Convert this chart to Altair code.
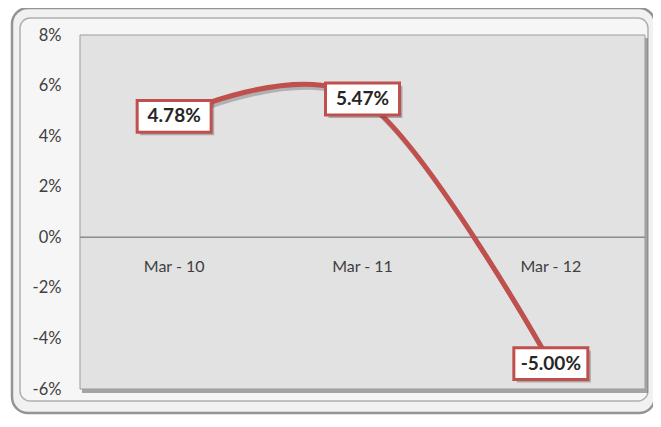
import altair as alt
import pandas as pd

categories = ["Mar - 10", "Mar - 11", "Mar - 12"]
values = [4.78, 5.47, -5.00]
labels = ["4.78%", "5.47%", "-5.00%"]
y_ticks = [-6, -4, -2, 0, 2, 4, 6, 8]

df = pd.DataFrame({"cat": categories, "v": values, "lab": labels})
one = pd.DataFrame({"a": [0]})

W, H = 565, 354
FONT = "Lato"
RED = "#c0504d"

x_enc = alt.X("cat:N", sort=categories, axis=None,
              scale=alt.Scale(type="point", padding=0.5))
y_scale = alt.Scale(domain=[-6, 8], nice=False, zero=False)
y_axis = alt.Axis(values=y_ticks, labelExpr="datum.value + '%'", title=None,
                  grid=False, ticks=False, domain=False, labelPadding=19, zindex=1,
                  labelFont=FONT, labelFontSize=16.5, labelColor="#404040")
y_enc = alt.Y("v:Q", scale=y_scale, axis=y_axis)

frame_outer = alt.Chart(one).mark_rect(
    cornerRadius=16, fill="#f1f1f1", stroke="#949494", strokeWidth=2.5
).encode(x=alt.value(-68), x2=alt.value(575), y=alt.value(-27), y2=alt.value(378))

frame_inner = alt.Chart(one).mark_rect(
    cornerRadius=10, fill="#f6f6f6", stroke="#b0b0b0", strokeWidth=1.5
).encode(x=alt.value(-60), x2=alt.value(568), y=alt.value(-17), y2=alt.value(366))

plot_shadow = alt.Chart(one).mark_rect(fill="#6e6e6e", opacity=0.6).encode(
    x=alt.value(2), x2=alt.value(W + 3), y=alt.value(3), y2=alt.value(H + 4))

plot_fill = alt.Chart(one).mark_rect(fill="#e2e2e2", stroke="#9c9c9c", strokeWidth=1).encode(
    x=alt.value(0), x2=alt.value("width"), y=alt.value(0), y2=alt.value("height"))

zero_rule = alt.Chart(df).mark_rule(color="#8c8c8c", strokeWidth=1).encode(
    y=alt.YDatum(0, scale=y_scale, axis=y_axis),
    x=alt.value(0), x2=alt.value("width"))

cat_text = alt.Chart(df).mark_text(
    font=FONT, fontSize=16, color="#404040", dy=30
).encode(x=x_enc, y=alt.YDatum(0, scale=y_scale, axis=y_axis), text="cat:N")

line_shadow = alt.Chart(df).mark_line(
    interpolate="cardinal", color="#404040", opacity=0.3, strokeWidth=5,
    xOffset=2, yOffset=3
).encode(x=x_enc, y=y_enc)

line = alt.Chart(df).mark_line(
    interpolate="cardinal", color=RED, strokeWidth=5
).encode(x=x_enc, y=y_enc)

BOX = "M-1,-0.43L1,-0.43L1,0.43L-1,0.43Z"
box_shadow = alt.Chart(df).mark_point(
    shape=BOX, size=5476, filled=True, color="#404040", opacity=0.35,
    xOffset=3, yOffset=3
).encode(x=x_enc, y=y_enc)

box = alt.Chart(df).mark_point(
    shape=BOX, size=5476, filled=True, fill="white", stroke=RED, strokeWidth=3,
    opacity=1
).encode(x=x_enc, y=y_enc)

box_text = alt.Chart(df).mark_text(
    font=FONT, fontSize=19, fontWeight="bold", color="#262626"
).encode(x=x_enc, y=y_enc, text="lab:N")

chart = alt.layer(
    frame_outer, frame_inner, plot_shadow, plot_fill, zero_rule, cat_text,
    line_shadow, line, box_shadow, box, box_text
).properties(
    width=W, height=H,
    autosize=alt.AutoSizeParams(type="none"),
    padding={"left": 72, "top": 27, "right": 8, "bottom": 30},
    background="white",
).configure_view(stroke=None)

chart.save("out.html", embed_options={"renderer": "svg", "actions": False})
